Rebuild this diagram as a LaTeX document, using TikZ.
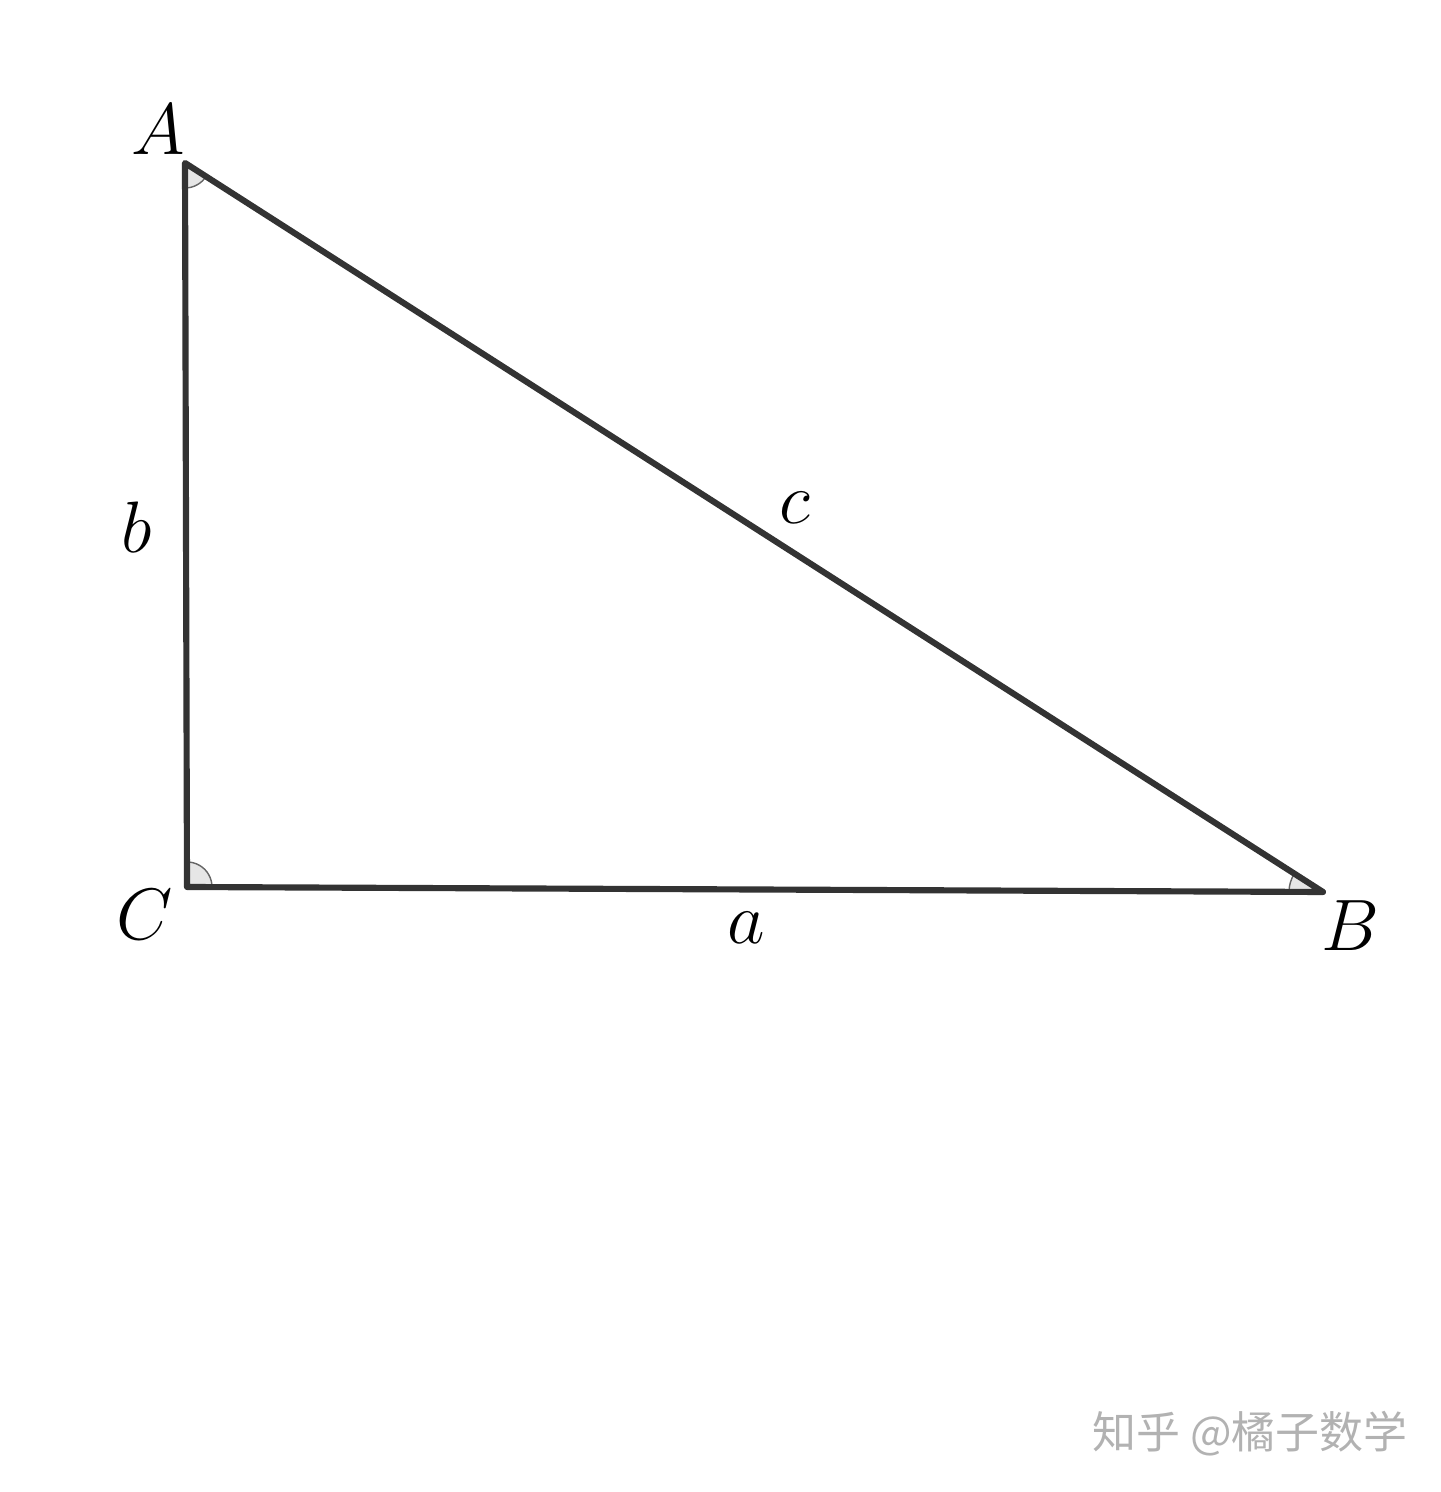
\documentclass[tikz,border=0pt]{standalone}
\usepackage{fontspec}
\newfontfamily\cjk{Noto Sans CJK SC}
\usetikzlibrary{positioning, angles}

\definecolor{edgegray}{HTML}{333333}
\definecolor{markgray}{HTML}{E6E6E6}

\begin{document}
\begin{tikzpicture}[
    % Styles for the triangle drawing
    side/.style={
        draw=edgegray,
        line width=1.75pt,
        line join=round,
        line cap=round
    },
    vertexlabel/.style={
        text=black,
        font=\fontsize{21}{25}\selectfont,
        inner sep=0pt
    },
    sidelabel/.style={
        text=black,
        font=\fontsize{21}{25}\selectfont,
        inner sep=0pt
    },
    anglemark/.style={
        draw=gray!80!black,
        fill=markgray,
        line width=0.4pt,
        angle radius=0.25cm
    },
    watermark/.style={
        text=black!30,
        font=\cjk\fontsize{12.5}{15}\selectfont,
        inner sep=0pt
    }
]
    \useasboundingbox (0,0) rectangle (14.4,14.92);

    % --- Vertices ---
    \coordinate (A) at (1.85, 13.29);
    \coordinate (C) at (1.87, 6.05);
    \coordinate (B) at (13.23, 6.00);

    % --- Angle marks ---
    \pic[anglemark] {angle = C--A--B};
    \pic[anglemark] {angle = B--C--A};
    \pic[anglemark, angle radius=0.34cm] {angle = A--B--C};

    % --- Sides ---
    \draw[side] (A) -- (C) -- (B) -- cycle;

    % --- Vertex labels ---
    \node[vertexlabel] (labA) at (1.58, 13.62) {$A$};
    \node[vertexlabel] (labC) at (1.45, 5.77) {$C$};
    \node[vertexlabel] (labB) at (13.50, 5.66) {$B$};

    % --- Side labels ---
    \node[sidelabel] (laba) at (7.46, 5.64) {$a$};
    \node[sidelabel] (labb) at (1.37, 9.65) {$b$};
    \node[sidelabel] (labc) at (7.95, 9.84) {$c$};

    % --- Watermark ---
    \node[watermark] (mark) at (12.50, 0.58) {知乎 @橘子数学};

\end{tikzpicture}
\end{document}
